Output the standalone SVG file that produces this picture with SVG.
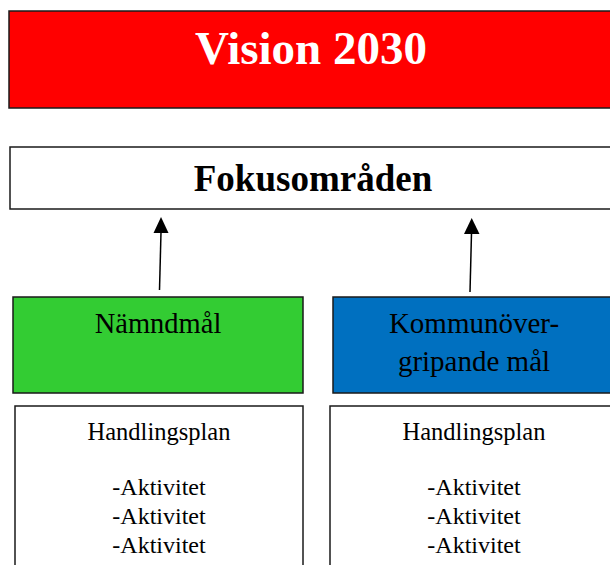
<svg xmlns="http://www.w3.org/2000/svg" width="610" height="565" viewBox="0 0 610 565">
<defs>
<style>
.box{stroke:#1a1a1a;stroke-width:1.5}
.t{font-family:"Liberation Serif","Times New Roman",serif;text-anchor:middle;fill:#000}
.conn{stroke:#000;stroke-width:1.5;fill:none}
</style>
</defs>
<rect width="610" height="565" fill="#fff"/>
<g id="vision">
<rect class="box" x="9" y="11" width="606" height="97" fill="#ff0000"/>
<text class="t" x="311" y="64" font-size="47" font-weight="bold" style="fill:#fff">Vision 2030</text>
</g>
<g id="fokus">
<rect class="box" x="10" y="147" width="605" height="62" fill="#fff"/>
<text class="t" x="313" y="191" font-size="37" font-weight="bold">Fokusområden</text>
</g>
<g id="namndmal">
<rect class="box" x="13" y="297" width="290" height="96" fill="#33cc33"/>
<text class="t" x="158" y="333" font-size="28.5">Nämndmål</text>
</g>
<g id="kommun">
<rect class="box" x="333" y="297" width="282" height="96" fill="#0070c0"/>
<text class="t" x="474" y="333" font-size="29">Kommunöver-</text>
<text class="t" x="474" y="371" font-size="29">gripande mål</text>
</g>
<g id="plan-left">
<rect class="box" x="15" y="406" width="288" height="165" fill="#fff"/>
<text class="t" x="159" y="440" font-size="24.5">Handlingsplan</text>
<text class="t" x="159" y="495" font-size="24">-Aktivitet</text>
<text class="t" x="159" y="524" font-size="24">-Aktivitet</text>
<text class="t" x="159" y="553" font-size="24">-Aktivitet</text>
</g>
<g id="plan-right">
<rect class="box" x="330" y="406" width="285" height="165" fill="#fff"/>
<text class="t" x="474" y="440" font-size="24.5">Handlingsplan</text>
<text class="t" x="474" y="495" font-size="24">-Aktivitet</text>
<text class="t" x="474" y="524" font-size="24">-Aktivitet</text>
<text class="t" x="474" y="553" font-size="24">-Aktivitet</text>
</g>
<g id="connectors">
<line class="conn" x1="159.5" y1="290" x2="161" y2="232"/>
<path d="M153.5,233 L161,217 L168.5,233 Z" fill="#000"/>
<line class="conn" x1="470" y1="292" x2="471.5" y2="233"/>
<path d="M464,234 L471.7,218 L479.5,234 Z" fill="#000"/>
</g>
</svg>
